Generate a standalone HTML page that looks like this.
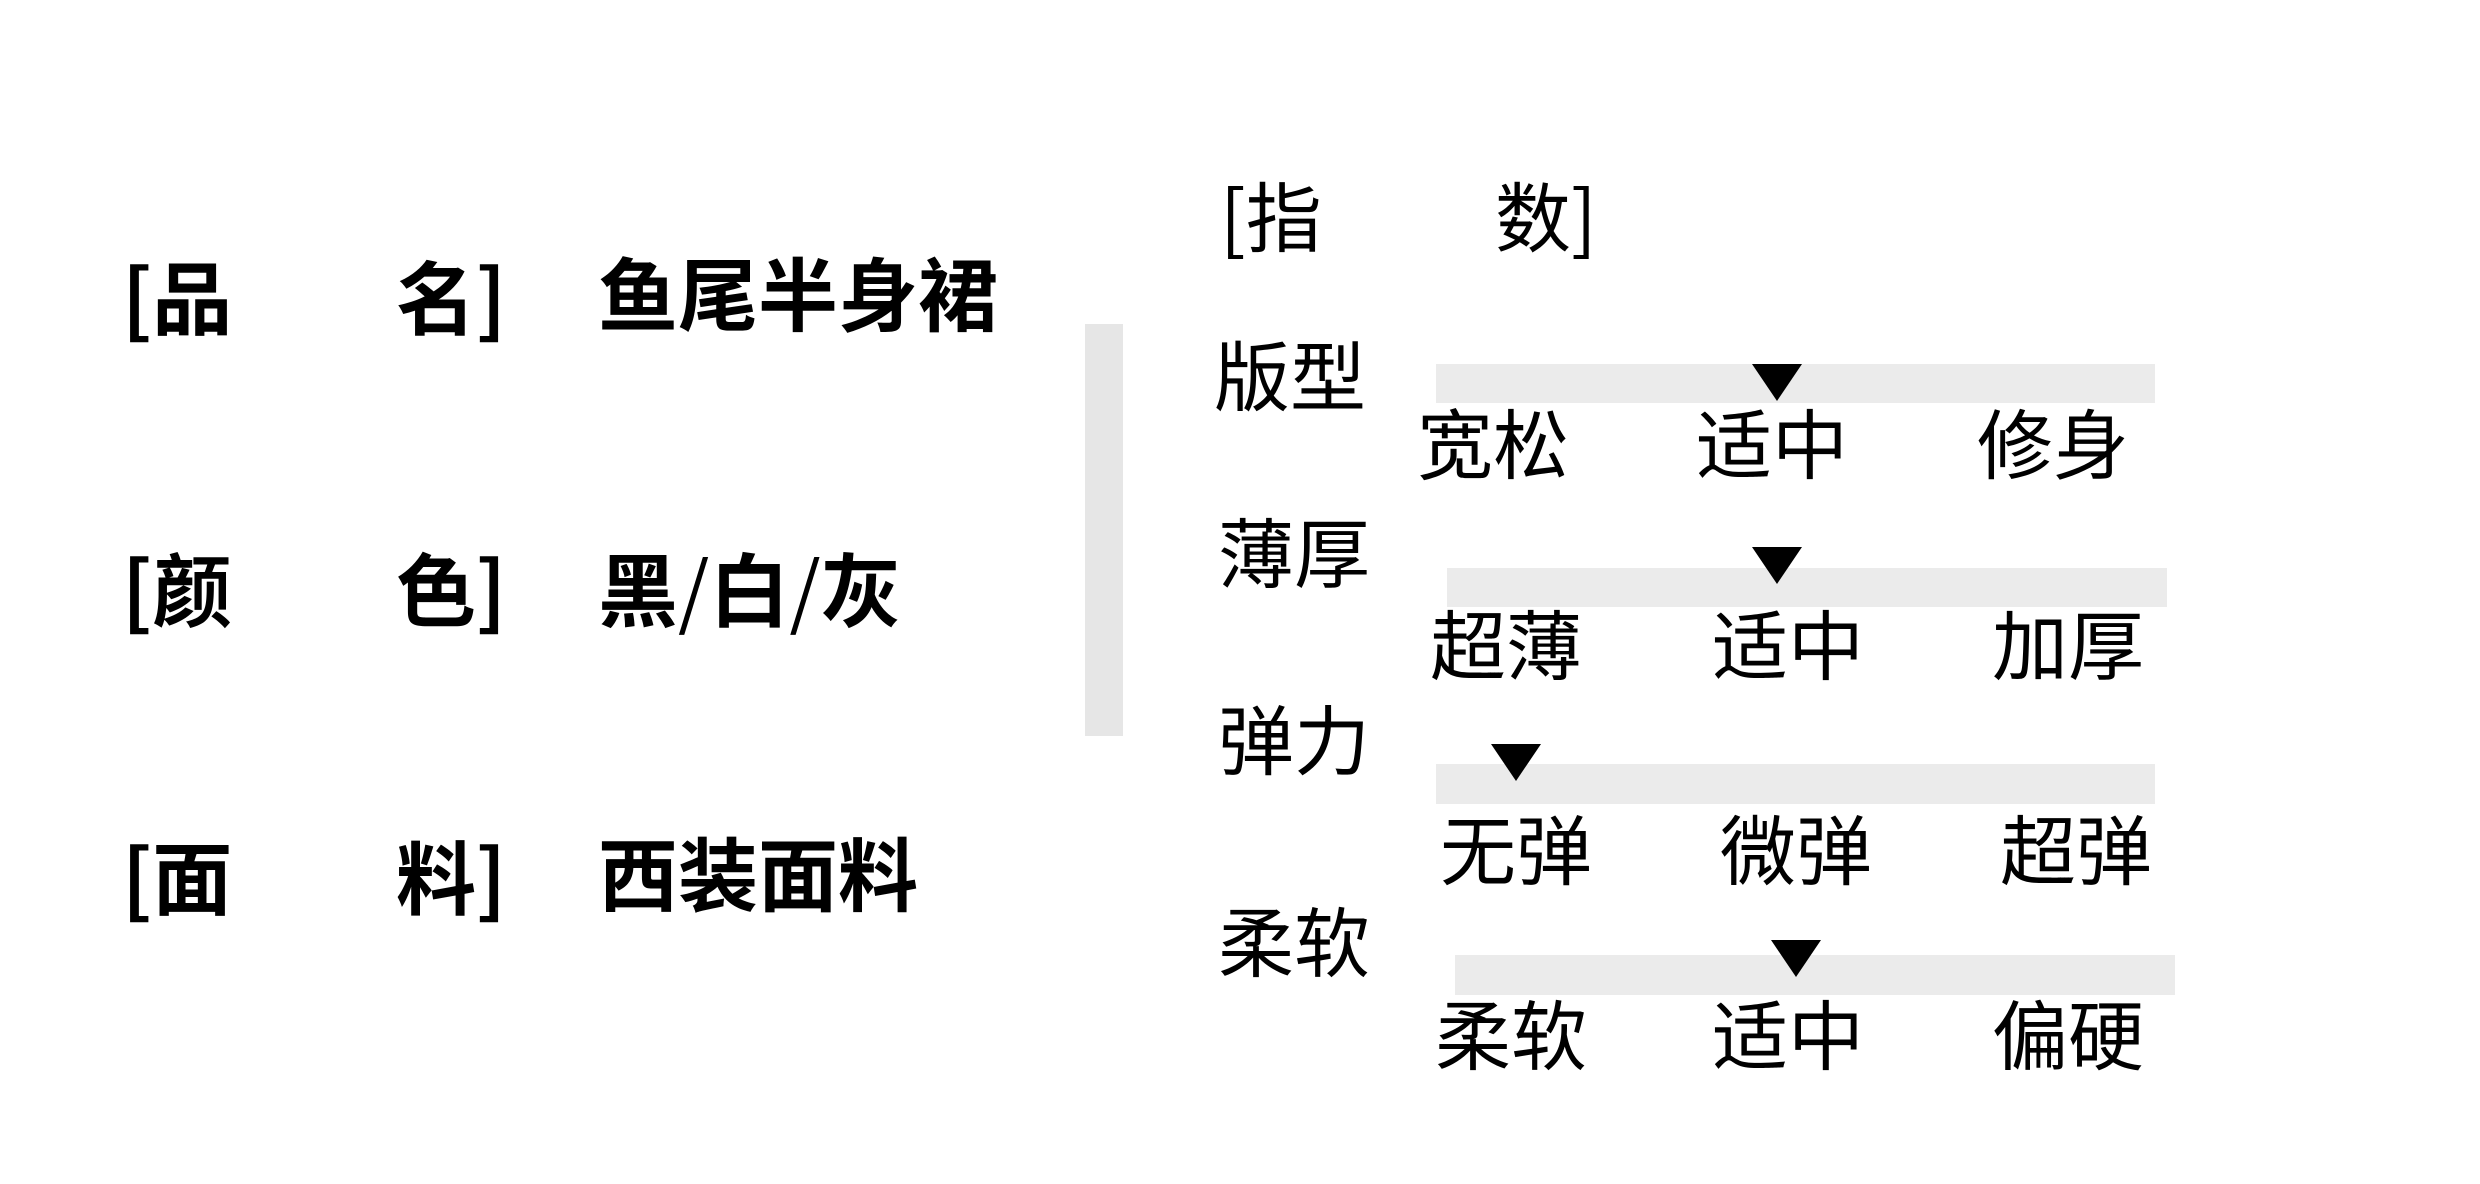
<!DOCTYPE html>
<html><head><meta charset="utf-8"><style>
html,body{margin:0;padding:0;background:#fff;}
body{width:2480px;height:1184px;position:relative;overflow:hidden;font-family:"Liberation Sans","Noto Sans CJK SC",sans-serif;color:#000;}
.k{font-family:"Noto Sans CJK SC",sans-serif;}
.t{position:absolute;line-height:1;white-space:nowrap;transform:translateY(-50%);}
.c{position:absolute;line-height:1;white-space:nowrap;transform:translate(-50%,-50%);font-size:76px;}
.b{font-weight:bold;font-size:80px;}
.r{font-size:76px;}
.bar{position:absolute;background:#ebebeb;}
.tri{position:absolute;width:0;height:0;border-left:25px solid transparent;border-right:25px solid transparent;border-top:37px solid #000;transform:translateX(-50%);}
</style></head><body>
<div class="t b" style="left:122px;top:298px"><span class="k">[</span>品</div>
<div class="t b" style="left:396px;top:298px">名<span class="k">]</span></div>
<div class="t b" style="left:598px;top:298px">鱼尾半身裙</div>
<div class="t b" style="left:122px;top:590px"><span class="k">[</span>颜</div>
<div class="t b" style="left:396px;top:590px">色<span class="k">]</span></div>
<div class="t b" style="left:598px;top:590px">黑<span class="k" style="font-weight:normal">/</span>白<span class="k" style="font-weight:normal">/</span>灰</div>
<div class="t b" style="left:122px;top:878px"><span class="k">[</span>面</div>
<div class="t b" style="left:396px;top:878px">料<span class="k">]</span></div>
<div class="t b" style="left:598px;top:878px">西装面料</div>

<div class="bar" style="left:1085px;top:324px;width:38px;height:412px;background:#e6e6e6"></div>

<div class="t r" style="left:1220px;top:217px"><span class="k">[</span>指</div>
<div class="t r" style="left:1495px;top:217px">数<span class="k">]</span></div>

<div class="t r" style="left:1214px;top:380px">版型</div>
<div class="bar" style="left:1436px;top:364px;width:719px;height:39px"></div>
<div class="tri" style="left:1777px;top:364px"></div>
<div class="c" style="left:1493px;top:448px">宽松</div>
<div class="c" style="left:1772px;top:448px">适中</div>
<div class="c" style="left:2053px;top:448px">修身</div>

<div class="t r" style="left:1218px;top:557px">薄厚</div>
<div class="bar" style="left:1447px;top:568px;width:720px;height:39px"></div>
<div class="tri" style="left:1777px;top:547px"></div>
<div class="c" style="left:1506px;top:649px">超薄</div>
<div class="c" style="left:1788px;top:649px">适中</div>
<div class="c" style="left:2068px;top:649px">加厚</div>

<div class="t r" style="left:1218px;top:744px">弹力</div>
<div class="bar" style="left:1436px;top:764px;width:719px;height:40px"></div>
<div class="tri" style="left:1516px;top:744px"></div>
<div class="c" style="left:1516px;top:854px">无弹</div>
<div class="c" style="left:1796px;top:854px">微弹</div>
<div class="c" style="left:2076px;top:854px">超弹</div>

<div class="t r" style="left:1218px;top:946px">柔软</div>
<div class="bar" style="left:1455px;top:955px;width:720px;height:40px"></div>
<div class="tri" style="left:1796px;top:940px"></div>
<div class="c" style="left:1511px;top:1039px">柔软</div>
<div class="c" style="left:1788px;top:1039px">适中</div>
<div class="c" style="left:2068px;top:1039px">偏硬</div>
</body></html>
